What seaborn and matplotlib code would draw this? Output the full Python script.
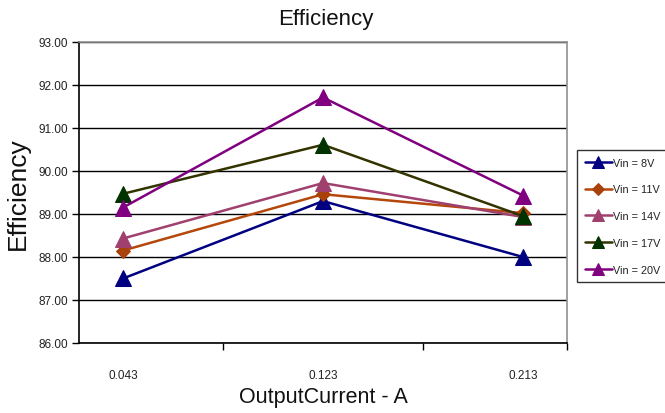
import matplotlib
matplotlib.use("Agg")
import matplotlib.pyplot as plt
from matplotlib.ticker import FixedLocator, NullFormatter, FormatStrFormatter
import seaborn as sns
import pandas as pd
import numpy as np

# Output current categories (A)
currents = ["0.043", "0.123", "0.213"]

# Efficiency (%) per input voltage
eff_8v = [87.50, 89.30, 88.00]
eff_11v = [88.15, 89.46, 89.02]
eff_14v = [88.43, 89.72, 88.93]
eff_17v = [89.47, 90.61, 88.95]
eff_20v = [89.15, 91.71, 89.43]

series_names = ["Vin = 8V", "Vin = 11V", "Vin = 14V", "Vin = 17V", "Vin = 20V"]
series_values = [eff_8v, eff_11v, eff_14v, eff_17v, eff_20v]

line_colors = ["#000080", "#B5470B", "#A0406E", "#333300", "#800080"]
marker_colors = ["#000080", "#A8420A", "#A0406E", "#003300", "#800080"]
markers = ["^", "D", "^", "^", "^"]

rows = []
for name, vals in zip(series_names, series_values):
    for i, v in enumerate(vals):
        rows.append({"pos": i, "current": currents[i], "series": name, "eff": v})
df = pd.DataFrame(rows)

sns.set_theme(style="white")
plt.rcParams["font.family"] = ["Liberation Sans", "DejaVu Sans"]

fig = plt.figure(figsize=(6.65, 4.14), dpi=100)
ax = fig.add_axes([79 / 665, 1 - 344 / 414, (567 - 79) / 665, (344 - 43) / 414])

for name, lc, mc, mk in zip(series_names, line_colors, marker_colors, markers):
    sub = df[df["series"] == name]
    sns.lineplot(data=sub, x="pos", y="eff", ax=ax, color=lc, linewidth=1.8,
                 marker=mk, markersize=11 if mk == "^" else 7.5,
                 markerfacecolor=mc, markeredgecolor=mc, label=name)

ax.set_xlim(-0.22, 2.22)
ax.set_ylim(86, 93)

# Y axis: fixed two-decimal labels with black gridlines
ax.yaxis.set_major_locator(FixedLocator(np.arange(86, 94, 1)))
ax.yaxis.set_major_formatter(FormatStrFormatter("%.2f"))
ax.grid(axis="y", color="black", linewidth=1.0)
ax.grid(axis="x", visible=False)

# X axis: tick marks at category boundaries, labels at category centres
ax.xaxis.set_major_locator(FixedLocator([0.5, 1.5, 2.22]))
ax.xaxis.set_major_formatter(NullFormatter())
ax.xaxis.set_minor_locator(FixedLocator(range(len(currents))))
ax.set_xticklabels(currents, minor=True)
ax.tick_params(axis="x", which="major", direction="out", length=5, width=1, color="black", bottom=True)
ax.tick_params(axis="x", which="minor", length=0, pad=19, labelsize=8.5, labelcolor="#222222")
ax.tick_params(axis="y", which="major", direction="out", length=5, width=1, color="black",
               left=True, labelsize=8.5, labelcolor="#222222", pad=3)

for side in ["left", "bottom"]:
    ax.spines[side].set_color("black")
    ax.spines[side].set_linewidth(1.2)
for side in ["top", "right"]:
    ax.spines[side].set_color("#909090")
    ax.spines[side].set_linewidth(1.2)
    ax.spines[side].set_visible(True)

ax.set_xlabel("OutputCurrent - A", fontsize=15.5, color="#111111", labelpad=3)
ax.set_ylabel("Efficiency", fontsize=19, color="#111111", labelpad=6)
fig.text(326 / 665, 1 - 20 / 414, "Efficiency", fontsize=16, ha="center", va="center", color="#111111")

leg = ax.legend(loc="upper left", bbox_to_anchor=(577 / 665, 1 - 151 / 414),
                bbox_transform=fig.transFigure, frameon=True, fancybox=False,
                fontsize=7.8, handlelength=2.5, handletextpad=0.1, markerscale=0.75,
                labelspacing=1.55, borderpad=0.7, borderaxespad=0)
leg.get_frame().set_edgecolor("black")
leg.get_frame().set_linewidth(1.0)
for t in leg.get_texts():
    t.set_color("#222222")

fig.savefig("out.png", dpi=100)
